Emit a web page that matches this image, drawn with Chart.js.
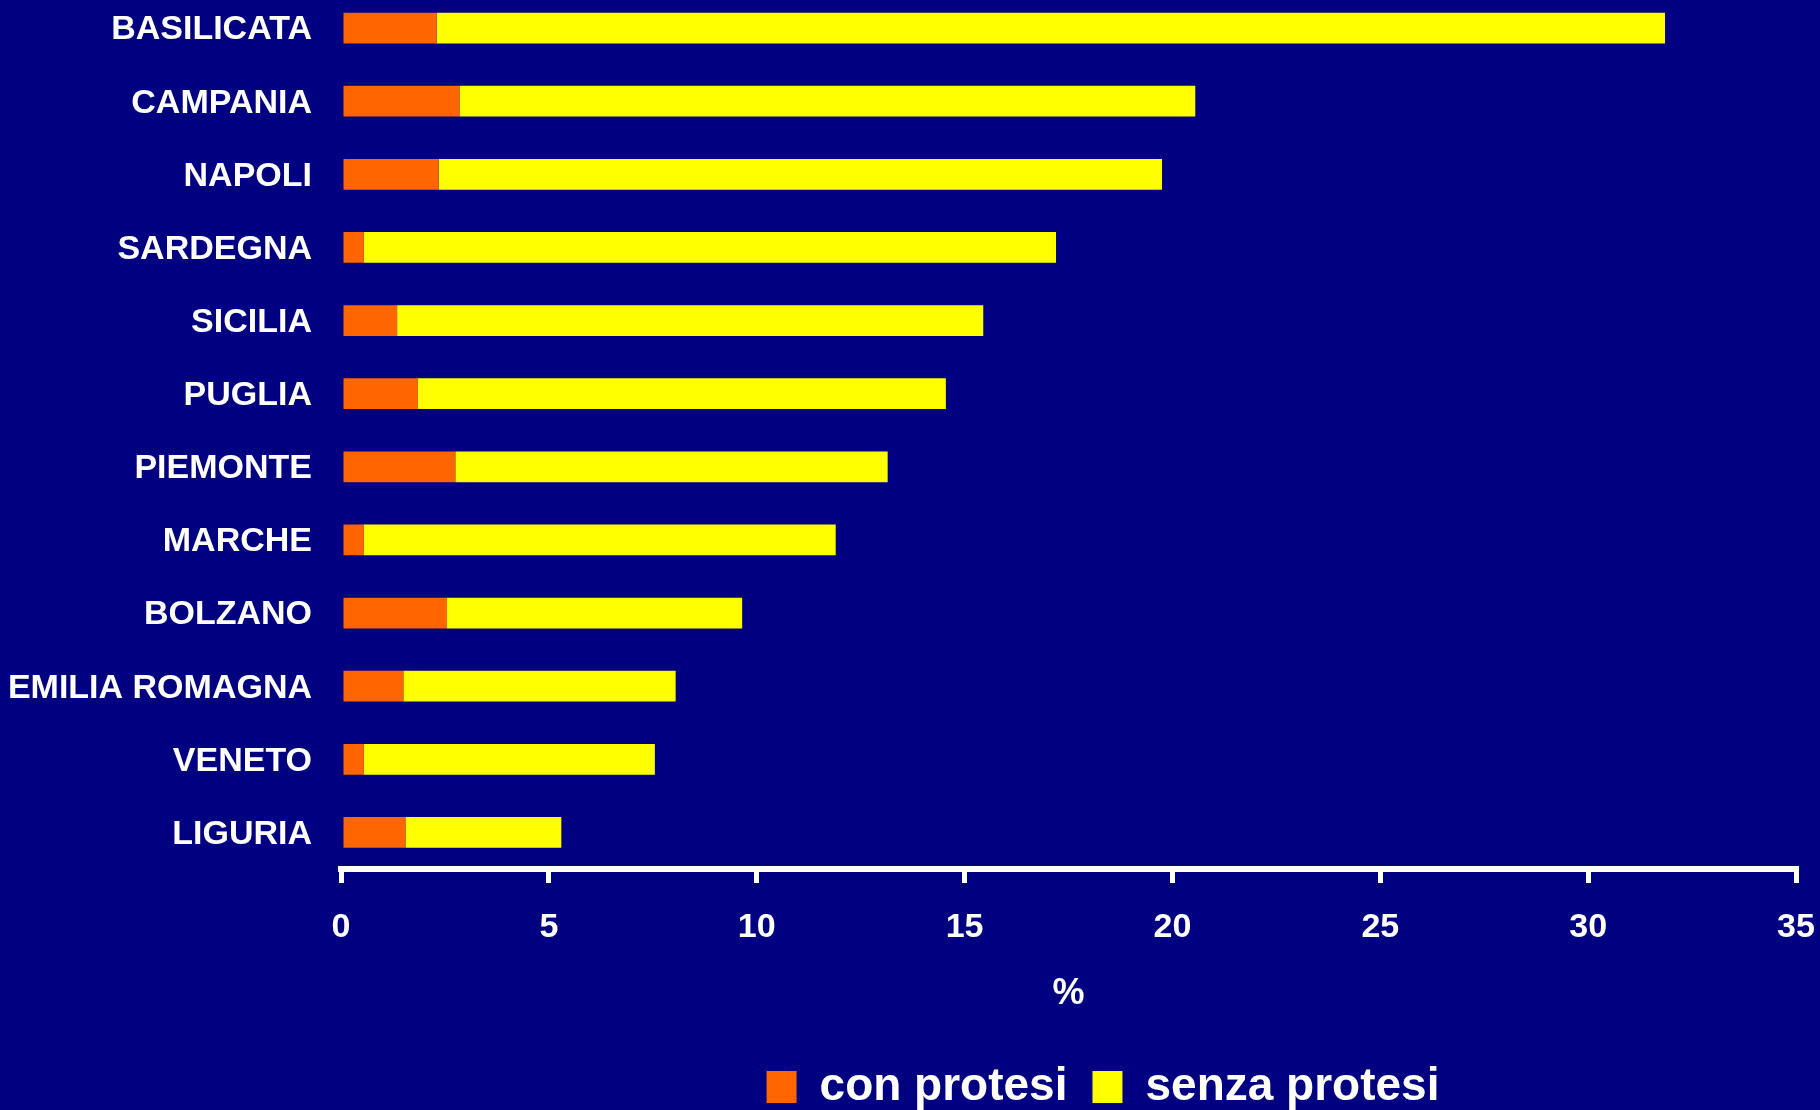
<!DOCTYPE html>
<html>
<head>
<meta charset="utf-8">
<script src="https://cdn.jsdelivr.net/npm/chart.js@4.4.1/dist/chart.umd.min.js"></script>
<style>
    html, body { margin: 0; padding: 0; background: #000080; overflow: hidden; }
    #wrap { position: relative; width: 1820px; height: 1110px; overflow: hidden; }
    #grafico { position: absolute; left: 0; top: -9px; }
</style>
</head>
<body>
<div id="wrap"><canvas id="grafico" width="1820" height="1150"></canvas></div>
<script>
// Dati (%)
const regioni = ['BASILICATA', 'CAMPANIA', 'NAPOLI', 'SARDEGNA', 'SICILIA', 'PUGLIA',
    'PIEMONTE', 'MARCHE', 'BOLZANO', 'EMILIA ROMAGNA', 'VENETO', 'LIGURIA'];
const conProtesi = [2.3, 2.85, 2.35, 0.55, 1.35, 1.85, 2.75, 0.55, 2.55, 1.5, 0.55, 1.55];
const senzaProtesi = [29.55, 17.7, 17.4, 16.65, 14.1, 12.7, 10.4, 11.35, 7.1, 6.55, 7.0, 3.75];

// Asse x
const xMin = 0;
const xMax = 35;
const xPasso = 5;
const titoloX = '%';

const fontArial = "'Liberation Sans', Arial, sans-serif";

// Sposta la legenda verso destra come nell'originale
const spostaLegenda = {
    id: 'spostaLegenda',
    afterLayout(chart) {
        const dx = 205;
        chart.legend.left += dx;
        chart.legend.right += dx;
    }
};

new Chart(document.getElementById('grafico'), {
    type: 'bar',
    data: {
        labels: regioni,
        datasets: [
            { label: 'con protesi', data: conProtesi, backgroundColor: '#FF6600', borderWidth: 0 },
            { label: 'senza protesi', data: senzaProtesi, backgroundColor: '#FFFF00', borderWidth: 0 }
        ]
    },
    options: {
        indexAxis: 'y',
        responsive: false,
        animation: false,
        layout: { padding: { top: 0, right: 24, bottom: 21, left: 0 } },
        datasets: { bar: { categoryPercentage: 1, barPercentage: 0.42 } },
        plugins: {
            legend: {
                position: 'bottom',
                labels: {
                    color: '#ffffff',
                    font: { family: fontArial, size: 46, weight: 'bold' },
                    boxWidth: 30,
                    boxHeight: 32,
                    padding: 25
                }
            },
            tooltip: { enabled: false }
        },
        scales: {
            x: {
                stacked: true,
                min: xMin,
                max: xMax,
                ticks: {
                    stepSize: xPasso,
                    color: '#ffffff',
                    // lineHeight alta = distanza delle etichette dall'asse (padding 0 per non stringere l'area)
                    font: { family: fontArial, size: 34, weight: 'bold', lineHeight: '89px' },
                    padding: 0
                },
                grid: { drawOnChartArea: false, drawTicks: true, tickLength: 14, color: '#ffffff', lineWidth: 5 },
                border: { color: '#ffffff', width: 6 },
                title: {
                    display: true,
                    text: titoloX,
                    color: '#ffffff',
                    font: { family: fontArial, size: 36, weight: 'bold' },
                    padding: { top: 0, bottom: 23 }
                },
                afterFit: scale => { scale.height = 170; }
            },
            y: {
                stacked: true,
                grid: { display: false, drawTicks: true, tickLength: 29 },
                border: { display: false },
                ticks: {
                    color: '#ffffff',
                    font: { family: fontArial, size: 34, weight: 'bold', lineHeight: '1px' },
                    padding: 0,
                    labelOffset: 2
                },
                afterFit: scale => { scale.width = 341; }
            }
        }
    },
    plugins: [spostaLegenda]
});
</script>
</body>
</html>
